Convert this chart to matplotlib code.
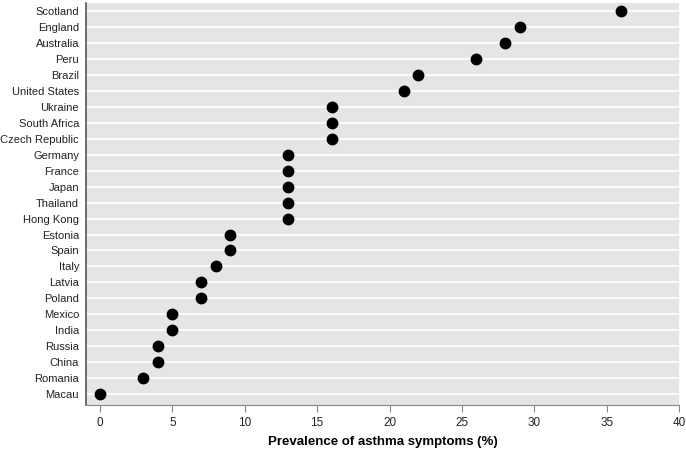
import matplotlib
matplotlib.use("Agg")
import matplotlib.pyplot as plt

countries = ["Scotland", "England", "Australia", "Peru", "Brazil", "United States",
             "Ukraine", "South Africa", "Czech Republic", "Germany", "France", "Japan",
             "Thailand", "Hong Kong", "Estonia", "Spain", "Italy", "Latvia", "Poland",
             "Mexico", "India", "Russia", "China", "Romania", "Macau"]
prevalence = [36, 29, 28, 26, 22, 21, 16, 16, 16, 13, 13, 13, 13, 13,
              9, 9, 8, 7, 7, 5, 5, 4, 4, 3, 0]
xticks = [0, 5, 10, 15, 20, 25, 30, 35, 40]

plt.rcParams['font.family'] = ['Liberation Sans', 'DejaVu Sans']

fig = plt.figure(figsize=(6.86, 4.51), dpi=100)
ax = fig.add_axes([0.1254, 0.102, 0.8644, 0.8913])
ax.set_facecolor("#e5e5e5")

# one white grid line per country row
ypos = list(range(len(countries)))[::-1]
for y in ypos:
    ax.axhline(y, color="white", lw=1.3, zorder=1)
ax.plot(prevalence, ypos, "o", color="black", markersize=7.5, zorder=3, clip_on=False)

ax.set_xlim(-0.97, 40)
ax.set_ylim(-0.68, len(countries) - 0.5)
ax.set_xticks(xticks)
ax.set_yticks(ypos)
ax.set_yticklabels(countries, fontsize=8, color="#222222")
ax.tick_params(axis="y", length=0, pad=5)
ax.tick_params(axis="x", length=5, color="#888888", labelsize=8.5, labelcolor="#222222", pad=4)

for s in ["top", "right"]:
    ax.spines[s].set_visible(False)
ax.spines["left"].set_color("#555555")
ax.spines["bottom"].set_color("#888888")
ax.spines["left"].set_linewidth(1.2)

ax.set_xlabel("Prevalence of asthma symptoms (%)", fontsize=9.5, fontweight="bold", labelpad=5)

fig.savefig("out.png", dpi=100)
